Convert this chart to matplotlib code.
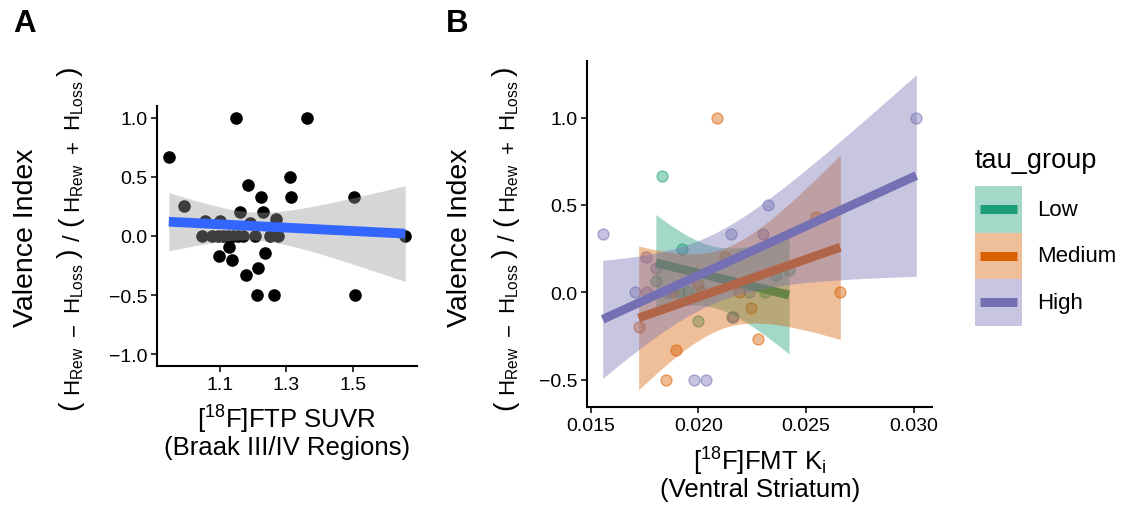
import numpy as np
import matplotlib
matplotlib.use("Agg")
import matplotlib.pyplot as plt
from matplotlib.patches import Rectangle
from matplotlib.lines import Line2D

plt.rcParams['font.family'] = ['Liberation Sans', 'DejaVu Sans']
plt.rcParams['mathtext.fontset'] = 'custom'
plt.rcParams['mathtext.rm'] = 'Liberation Sans'
plt.rcParams['mathtext.it'] = 'Liberation Sans:italic'
plt.rcParams['mathtext.bf'] = 'Liberation Sans:bold'
plt.rcParams['axes.unicode_minus'] = True

# ---------------- Data ----------------
# Panel A: FTP SUVR vs valence index
ftp_suvr = [0.947, 1.149, 1.363, 0.993, 1.186, 1.223, 1.312, 1.316, 1.504,
            1.160, 1.230, 1.056, 1.100, 1.190, 1.269,
            1.046, 1.076, 1.096, 1.111, 1.126, 1.141, 1.156, 1.171, 1.206, 1.251, 1.276, 1.658,
            1.129, 1.099, 1.137, 1.236, 1.178, 1.215,
            1.211, 1.263, 1.508]
valence_a = [0.667, 1.0, 1.0, 0.25, 0.429, 0.333, 0.5, 0.333, 0.333,
             0.2, 0.2, 0.125, 0.125, 0.111, 0.143,
             0, 0, 0, 0, 0, 0, 0, 0, 0, 0, 0, 0,
             -0.091, -0.167, -0.2, -0.143, -0.333, -0.273,
             -0.5, -0.5, -0.5]

# Panel B: FMT Ki vs valence index by tau group
fmt_low = [0.01830, 0.01924, 0.01803, 0.01910, 0.01952, 0.02000, 0.02157, 0.02310, 0.02360, 0.02422]
val_low = [0.667, 0.25, 0.067, 0.0, 0.0, -0.167, -0.143, 0.0, 0.1, 0.125]

fmt_med = [0.01723, 0.01849, 0.01880, 0.01896, 0.02000, 0.02015, 0.02087, 0.02124, 0.02190,
           0.02245, 0.02278, 0.02547, 0.02660]
val_med = [-0.2, -0.5, 0.0, -0.333, 0.05, 0.0, 1.0, 0.2, 0.0, -0.091, -0.267, 0.429, 0.0]

fmt_high = [0.01556, 0.01705, 0.01756, 0.01760, 0.01803, 0.01850, 0.01979, 0.02035, 0.02152,
            0.02160, 0.02236, 0.02299, 0.02324, 0.03013]
val_high = [0.333, 0.0, 0.2, 0.0, 0.14, 0.0, -0.5, -0.5, 0.333, -0.143, 0.0, 0.333, 0.5, 1.0]

groups = ['Low', 'Medium', 'High']
group_colors = ['#1B9E77', '#D95F02', '#7570B3']

a_xticks = [1.1, 1.3, 1.5]
a_yticks = [-1.0, -0.5, 0.0, 0.5, 1.0]
b_xticks = [0.015, 0.020, 0.025, 0.030]
b_yticks = [-0.5, 0.0, 0.5, 1.0]


# ---------------- helpers ----------------
def t975(df):
    z = 1.959964
    return (z + (z**3 + z) / (4 * df) + (5 * z**5 + 16 * z**3 + 3 * z) / (96 * df**2)
            + (3 * z**7 + 19 * z**5 + 17 * z**3 - 15 * z) / (384 * df**3))


def lm_fit(x, y, n=80):
    x = np.asarray(x, float)
    y = np.asarray(y, float)
    b, a = np.polyfit(x, y, 1)
    xs = np.linspace(x.min(), x.max(), n)
    ys = a + b * xs
    resid = y - (a + b * x)
    nn = len(x)
    s = np.sqrt(np.sum(resid**2) / (nn - 2))
    sxx = np.sum((x - x.mean())**2)
    se = s * np.sqrt(1.0 / nn + (xs - x.mean())**2 / sxx)
    t = t975(nn - 2)
    return xs, ys, ys - t * se, ys + t * se


def style_axis(ax):
    for sp in ['top', 'right']:
        ax.spines[sp].set_visible(False)
    for sp in ['left', 'bottom']:
        ax.spines[sp].set_linewidth(1.5)
        ax.spines[sp].set_color('black')
    ax.tick_params(axis='both', which='major', direction='out', length=4, width=1.4,
                   color='#333333', labelsize=14, labelcolor='black', pad=3)


W, H = 1124, 506
fig = plt.figure(figsize=(W / 100, H / 100), dpi=100)
renderer = fig.canvas.get_renderer()


def px_axes(left, top, right, bottom):
    return fig.add_axes([left / W, 1 - bottom / H, (right - left) / W, (bottom - top) / H])


def vertical_formula(x_base, y_center, pieces):
    """pieces: (text, fontsize, baseline shift px (towards left), gap after px)"""
    texts = []
    lengths = []
    for s, fs, shift, gap in pieces:
        t = fig.text(0, 0, s, fontsize=fs, rotation=90, rotation_mode='anchor',
                     ha='left', va='baseline', transform=None)
        bb = t.get_window_extent(renderer)
        texts.append(t)
        lengths.append(bb.height)
    total = sum(lengths) + sum(p[3] for p in pieces[:-1])
    y = (H - y_center) - total / 2
    for t, L, (s, fs, shift, gap) in zip(texts, lengths, pieces):
        t.set_position((x_base - shift, y))
        y += L + gap


def ylabel_block(x_vi, x_formula, y_center):
    fig.text(x_vi, H - y_center, 'Valence Index', fontsize=20.5, rotation=90,
             rotation_mode='anchor', ha='center', va='baseline', transform=None)
    hr = r'$\mathrm{H_{Rew}}$'
    hl = r'$\mathrm{H_{Loss}}$'
    pf = 20.5
    ps = 3.0
    pieces = [('(', pf, ps, 4), (hr, 16, 0, 11), ('\u2212', 16, 0, 9), (hl, 16, 0, 5),
              (')', pf, ps, 8), ('/', 17, 0, 8), ('(', pf, ps, 4), (hr, 16, 0, 10),
              ('+', 16, 0, 9), (hl, 16, 0, 5), (')', pf, ps, 0)]
    vertical_formula(x_formula, y_center, pieces)


# ---------------- Panel A ----------------
axA = px_axes(157, 107, 417, 367)
xA = np.asarray(ftp_suvr)
yA = np.asarray(valence_a)
axA.scatter(xA, yA, s=82, color='black', zorder=2, linewidths=0)
xs, ys, lo, hi = lm_fit(xA, yA)
axA.fill_between(xs, lo, hi, color='#999999', alpha=0.4, linewidth=0, zorder=3)
axA.plot(xs, ys, color='#3366FF', linewidth=7, solid_capstyle='butt', zorder=4)
rng = xA.max() - xA.min()
axA.set_xlim(xA.min() - 0.05 * rng, xA.max() + 0.05 * rng)
axA.set_ylim(-1.1, 1.1)
axA.set_xticks(a_xticks)
axA.set_xticklabels([f'{v:.1f}' for v in a_xticks])
axA.set_yticks(a_yticks)
axA.set_yticklabels([f'{v:.1f}'.replace('-', '\u2212') for v in a_yticks])
style_axis(axA)

ylabel_block(33, 80, 238)
fig.text(287 / W, 1 - 420 / H, r'[$^{18}$F]FTP SUVR', ha='center', va='center', fontsize=18.5)
fig.text(287 / W, 1 - 448 / H, '(Braak III/IV Regions)', ha='center', va='center', fontsize=18.5)
fig.text(13 / W, 1 - 24 / H, 'A', ha='left', va='center', fontsize=22.5, fontweight='bold')

# ---------------- Panel B ----------------
axB = px_axes(587, 62, 932, 408)
allx = []
for gx, gy, c in zip([fmt_low, fmt_med, fmt_high], [val_low, val_med, val_high], group_colors):
    axB.scatter(gx, gy, s=62, facecolor=matplotlib.colors.to_rgba(c, 0.42),
                edgecolor=matplotlib.colors.to_rgba(c, 0.55), linewidths=1.0, zorder=2)
    allx += list(gx)
z = 3
for gx, gy, c in zip([fmt_low, fmt_med, fmt_high], [val_low, val_med, val_high], group_colors):
    xs, ys, lo, hi = lm_fit(gx, gy)
    axB.fill_between(xs, lo, hi, color=c, alpha=0.4, linewidth=0, zorder=z)
    axB.plot(xs, ys, color=c, linewidth=6.3, solid_capstyle='butt', zorder=z + 1)
    z += 2
allx = np.asarray(allx)
rngB = allx.max() - allx.min()
axB.set_xlim(allx.min() - 0.05 * rngB, allx.max() + 0.05 * rngB)
axB.set_ylim(-0.657, 1.324)
axB.set_xticks(b_xticks)
axB.set_xticklabels([f'{v:.3f}' for v in b_xticks])
axB.set_yticks(b_yticks)
axB.set_yticklabels([f'{v:.1f}'.replace('-', '\u2212') for v in b_yticks])
style_axis(axB)

ylabel_block(467, 515, 238)
fig.text(760 / W, 1 - 462 / H, r'[$^{18}$F]FMT K$_\mathrm{i}$', ha='center', va='center', fontsize=18.5)
fig.text(760 / W, 1 - 490 / H, '(Ventral Striatum)', ha='center', va='center', fontsize=18.5)
fig.text(446 / W, 1 - 24 / H, 'B', ha='left', va='center', fontsize=22.5, fontweight='bold')

# ---------------- Legend ----------------
axL = px_axes(975, 140, 1124, 330)
axL.set_xlim(975, 1124)
axL.set_ylim(330, 140)
axL.axis('off')
axL.text(975, 161, 'tau_group', ha='left', va='center', fontsize=19.5)
key_top = 187
key_h = 46.5
for i, (g, c) in enumerate(zip(groups, group_colors)):
    y0 = key_top + i * key_h
    axL.add_patch(Rectangle((975, y0), 47, key_h, facecolor=c, alpha=0.4, edgecolor='none'))
    axL.add_line(Line2D([980, 1017], [y0 + key_h / 2] * 2, color=c, linewidth=6.5,
                        solid_capstyle='butt'))
    axL.text(1037, y0 + key_h / 2, g, ha='left', va='center', fontsize=16)

fig.savefig('out.png', dpi=100)
